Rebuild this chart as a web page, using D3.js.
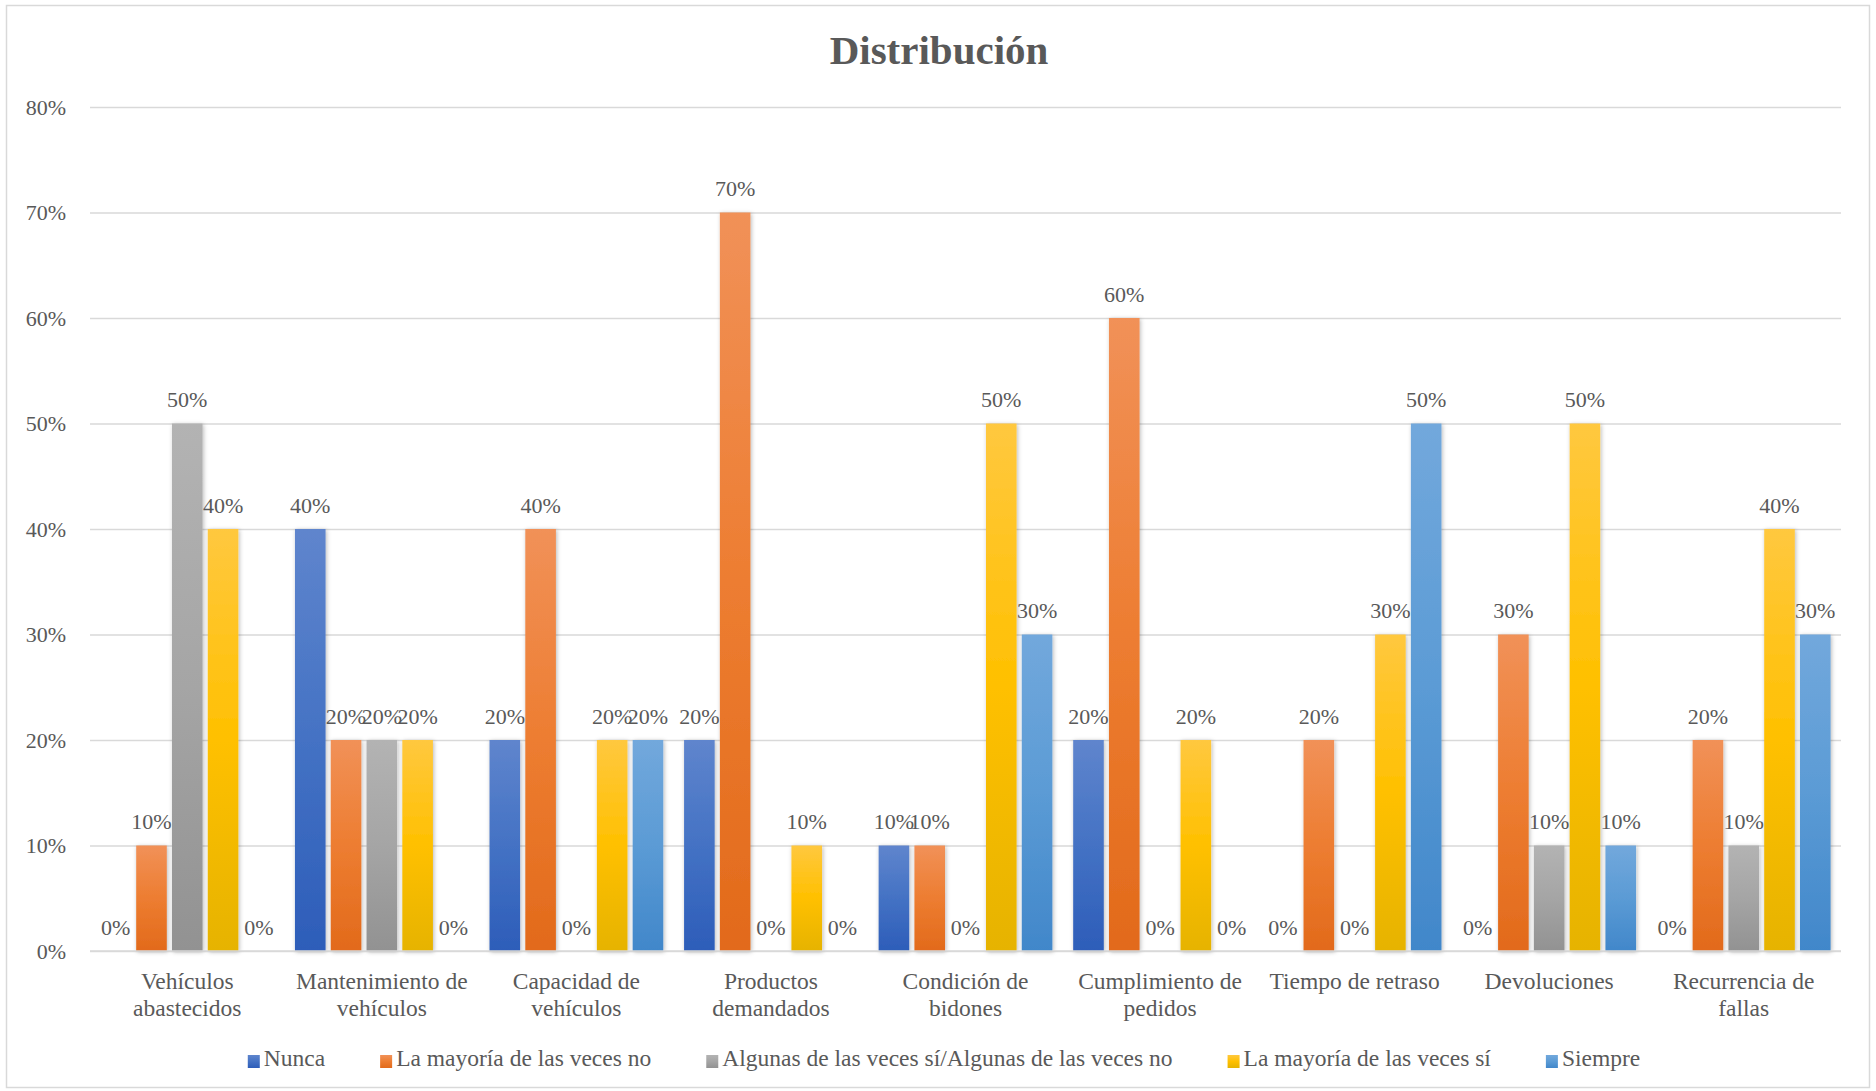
<!DOCTYPE html>
<html>
<head>
<meta charset="utf-8">
<script src="https://cdn.jsdelivr.net/npm/d3@7"></script>
<style>
  html, body { margin: 0; padding: 0; background: #fff; }
  svg { display: block; }
  text { font-family: "Liberation Serif", "Times New Roman", serif; fill: #595959; }
</style>
</head>
<body>
<svg id="chart" width="1876" height="1091"></svg>
<script>
// ---------- DATA ----------
const categories = [
  ["Vehículos", "abastecidos"],
  ["Mantenimiento de", "vehículos"],
  ["Capacidad de", "vehículos"],
  ["Productos", "demandados"],
  ["Condición de", "bidones"],
  ["Cumplimiento de", "pedidos"],
  ["Tiempo de retraso"],
  ["Devoluciones"],
  ["Recurrencia de", "fallas"]
];
const seriesNames = [
  "Nunca",
  "La mayoría de las veces no",
  "Algunas de las veces sí/Algunas de las veces no",
  "La mayoría de las veces sí",
  "Siempre"
];
const nunca        = [0, 40, 20, 20, 10, 20, 0, 0, 0];
const mayoriaNo    = [10, 20, 40, 70, 10, 60, 20, 30, 20];
const algunas      = [50, 20, 0, 0, 0, 0, 0, 10, 10];
const mayoriaSi    = [40, 20, 20, 10, 50, 20, 30, 50, 40];
const siempre      = [0, 0, 20, 0, 30, 0, 50, 10, 30];
const seriesValues = [nunca, mayoriaNo, algunas, mayoriaSi, siempre];
const yTicks = [0, 10, 20, 30, 40, 50, 60, 70, 80];
const title = "Distribución";

// ---------- STYLE ----------
const colors = [
  { top: "#5F85CD", mid: "#4472C4", bot: "#2D5DB9" },
  { top: "#F19158", mid: "#ED7D31", bot: "#E26A1B" },
  { top: "#B3B3B3", mid: "#A5A5A5", bot: "#929292" },
  { top: "#FFC83F", mid: "#FFC000", bot: "#E6B300" },
  { top: "#72A8DC", mid: "#5B9BD5", bot: "#4187CA" }
];

const svg = d3.select("#chart");
const plotL = 90, plotR = 1841, plotT = 107, plotB = 951;

// defs: gradients + shadow
const defs = svg.append("defs");
colors.forEach((c, i) => {
  const g = defs.append("linearGradient").attr("id", "grad" + i)
    .attr("x1", 0).attr("y1", 0).attr("x2", 0).attr("y2", 1);
  g.append("stop").attr("offset", "0%").attr("stop-color", c.top);
  g.append("stop").attr("offset", "50%").attr("stop-color", c.mid);
  g.append("stop").attr("offset", "100%").attr("stop-color", c.bot);
});
const f = defs.append("filter").attr("id", "shadow")
  .attr("x", "-30%").attr("y", "-10%").attr("width", "160%").attr("height", "120%");
f.append("feDropShadow").attr("dx", 1).attr("dy", 1).attr("stdDeviation", 2.2)
  .attr("flood-color", "#000").attr("flood-opacity", 0.28);

// border
svg.append("rect").attr("x", 6.5).attr("y", 5.5).attr("width", 1863).attr("height", 1082)
  .attr("fill", "#fff").attr("stroke", "#D9D9D9").attr("stroke-width", 1.5);

// title
svg.append("text").attr("x", 939).attr("y", 64).attr("text-anchor", "middle")
  .style("font-size", "41px").style("font-weight", "bold").text(title);

// scales
const x = d3.scaleBand().domain(d3.range(categories.length)).range([plotL, plotR]).paddingInner(0).paddingOuter(0);
const y = d3.scaleLinear().domain([0, 80]).range([plotB, plotT]);
const groupW = x.bandwidth() * 0.893;
const xs = d3.scaleBand().domain(d3.range(seriesNames.length)).range([0, groupW]).paddingInner(0.145).paddingOuter(0);

// gridlines
const yAxis = d3.axisLeft(y).tickValues(yTicks).tickSize(-(plotR - plotL)).tickFormat(d => d + "%").tickPadding(24);
const gy = svg.append("g").attr("transform", `translate(${plotL},0)`).call(yAxis);
gy.select(".domain").remove();
gy.selectAll(".tick line").attr("stroke", "#D9D9D9").attr("stroke-width", 1.5);
gy.selectAll(".tick text").style("font-size", "22px").style("font-family", "Liberation Serif, serif")
  .attr("fill", "#595959");

// bars
const groups = svg.append("g").selectAll("g.cat").data(categories).join("g")
  .attr("class", "cat")
  .attr("transform", (d, i) => `translate(${x(i) + (x.bandwidth() - groupW) / 2},0)`);

groups.each(function (cat, ci) {
  const g = d3.select(this);
  seriesValues.forEach((vals, si) => {
    const v = vals[ci];
    if (v > 0) {
      g.append("rect")
        .attr("x", xs(si)).attr("width", xs.bandwidth())
        .attr("y", y(v)).attr("height", y(0) - y(v))
        .attr("fill", `url(#grad${si})`)
        .attr("filter", "url(#shadow)");
    }
    g.append("text")
      .attr("x", xs(si) + xs.bandwidth() / 2)
      .attr("y", y(v) - 16.5)
      .attr("text-anchor", "middle")
      .style("font-size", "22px")
      .text(v + "%");
  });
});

// baseline
svg.append("line").attr("x1", plotL).attr("x2", plotR).attr("y1", plotB).attr("y2", plotB)
  .attr("stroke", "#D9D9D9").attr("stroke-width", 1.5);

// category labels
const cl = svg.append("g").selectAll("text").data(categories).join("text")
  .attr("text-anchor", "middle")
  .attr("x", (d, i) => x(i) + x.bandwidth() / 2)
  .attr("y", 989)
  .style("font-size", "23.5px");
cl.each(function (lines) {
  const t = d3.select(this);
  lines.forEach((ln, k) => {
    t.append("tspan").attr("x", t.attr("x")).attr("dy", k === 0 ? 0 : 27).text(ln);
  });
});

// legend
const legend = svg.append("g");
const items = legend.selectAll("g").data(seriesNames).join("g");
items.append("rect").attr("width", 12).attr("height", 13).attr("y", -11)
  .attr("fill", (d, i) => `url(#grad${i})`);
items.append("text").attr("x", 16).attr("y", 0).style("font-size", "23.5px").text(d => d);
let cx = 0;
const gap = 55;
items.each(function () {
  const w = 16 + d3.select(this).select("text").node().getComputedTextLength();
  d3.select(this).attr("transform", `translate(${cx},0)`);
  cx += w + gap;
});
const totalW = cx - gap;
legend.attr("transform", `translate(${944 - totalW / 2},1066)`);
</script>
</body>
</html>
